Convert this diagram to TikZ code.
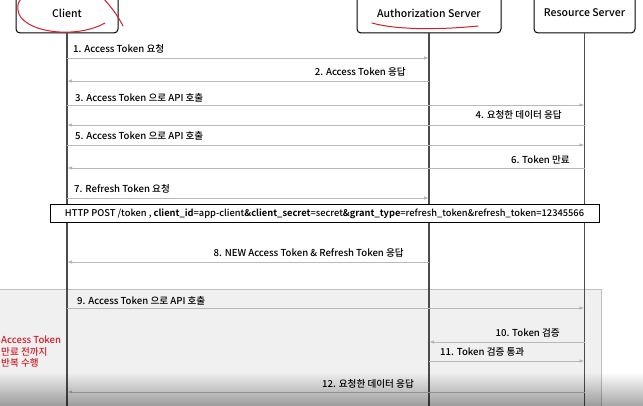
\documentclass[tikz,border=0pt]{standalone}
\usepackage{fontspec}
\setmainfont{Noto Sans CJK KR}[UprightFont=* Medium, BoldFont=* Bold]
\usetikzlibrary{arrows.meta,fadings}
\definecolor{annot}{HTML}{D0202A}
\tikzset{
  actor/.style={draw, rounded corners=4pt, line width=1pt, minimum height=40pt, inner sep=0pt, font=\fontsize{10.5}{12}\selectfont},
  lifeline/.style={draw=black!70, line width=1.4pt},
  msg/.style={draw=black!28, line width=0.8pt, ->},
  lbl/.style={font=\fontsize{9.6}{11.5}\selectfont, inner sep=0pt},
  pen/.style={draw=annot, line width=1pt, line cap=round},
}
\begin{document}
\begin{tikzpicture}[x=1pt, y=-1pt, >={Latex[length=5pt,width=3.5pt,fill=black!45]}]
  \useasboundingbox (0,0) rectangle (643,406);
  \fill[white] (0,0) rectangle (643,406);
  % repeated part
  \draw[fill=black!6, draw=black!25] (-5,289) rectangle (601,415);
  % participants
  \node[actor, minimum width=102pt] (cl) at (67,13) {Client};
  \node[actor, minimum width=144pt] (as) at (429,13) {Authorization Server};
  \node[actor, minimum width=101pt] (rs) at (584.5,13) {Resource Server};
  \draw[lifeline] (cl.south) -- (cl.south |- 0,406);
  \draw[lifeline] (as.south) -- (as.south |- 0,406);
  \draw[lifeline] (rs.south) -- (rs.south |- 0,406);
  % messages
  \node[lbl, anchor=west] (m1) at (73,49) {1. Access Token 요청};
  \draw[msg] (cl |- 0,58) -- (as |- 0,58);
  \node[lbl, anchor=east] (m2) at (406,72) {2. Access Token 응답};
  \draw[msg] (as |- 0,81) -- (cl |- 0,81);
  \node[lbl, anchor=west] (m3) at (75,98) {3. Access Token 으로 API 호출};
  \draw[msg] (cl |- 0,105) -- (rs |- 0,105);
  \node[lbl, anchor=east] (m4) at (562,115) {4. 요청한 데이터 응답};
  \draw[msg] (rs |- 0,125) -- (cl |- 0,125);
  \node[lbl, anchor=west] (m5) at (75,136) {5. Access Token 으로 API 호출};
  \draw[msg] (cl |- 0,145) -- (rs |- 0,145);
  \node[lbl, anchor=east] (m6) at (570,160) {6. Token 만료};
  \draw[msg] (rs |- 0,168) -- (cl |- 0,168);
  \node[lbl, anchor=west] (m7) at (74,189) {7. Refresh Token 요청};
  \draw[msg] (cl |- 0,198) -- (as |- 0,198);
  \node[draw, line width=1pt, fill=white, minimum width=549pt, minimum height=18pt, inner sep=0pt,
        font=\fontsize{9.3}{11}\selectfont] (req) at (324.5,214)
    {HTTP POST /token , \textbf{client\_id}=app-client\textbf{\&client\_secret}=secret\textbf{\&grant\_type}=refresh\_token\&refresh\_token=12345566};
  \node[lbl, anchor=east] (m8) at (404,253) {8. NEW Access Token \& Refresh Token 응답};
  \draw[msg] (as |- 0,262) -- (cl |- 0,262);
  \node[lbl, anchor=west] (m9) at (77,301) {9. Access Token 으로 API 호출};
  \draw[msg] (cl |- 0,308) -- (rs |- 0,308);
  \node[lbl, anchor=east] (m10) at (560,333) {10. Token 검증};
  \draw[msg] (rs |- 0,342) -- (as |- 0,342);
  \node[lbl, anchor=west] (m11) at (440,352) {11. Token 검증 통과};
  \draw[msg] (as |- 0,361) -- (rs |- 0,361);
  \node[lbl, anchor=west] (m12) at (322,384) {12. 요청한 데이터 응답};
  \draw[msg] (rs |- 0,392) -- (cl |- 0,392);
  \node[lbl, text=annot, anchor=west, align=left] (rep) at (1,352) {Access Token\\만료 전까지\\반복 수행};
  % red pen marks
  \draw[pen] (105,23) .. controls (75,40) and (20,32) .. (18,10) .. controls (17,4) and (19,1) .. (22,-2);
  \draw[pen] (103,-2) .. controls (112,8) and (118,16) .. (123,26);
  \draw[pen] (372,23) .. controls (400,31) and (450,29) .. (478,26);
  % video shade
  \fill[black, opacity=0.35, path fading=north] (0,372) rectangle (643,406);
\end{tikzpicture}
\end{document}
